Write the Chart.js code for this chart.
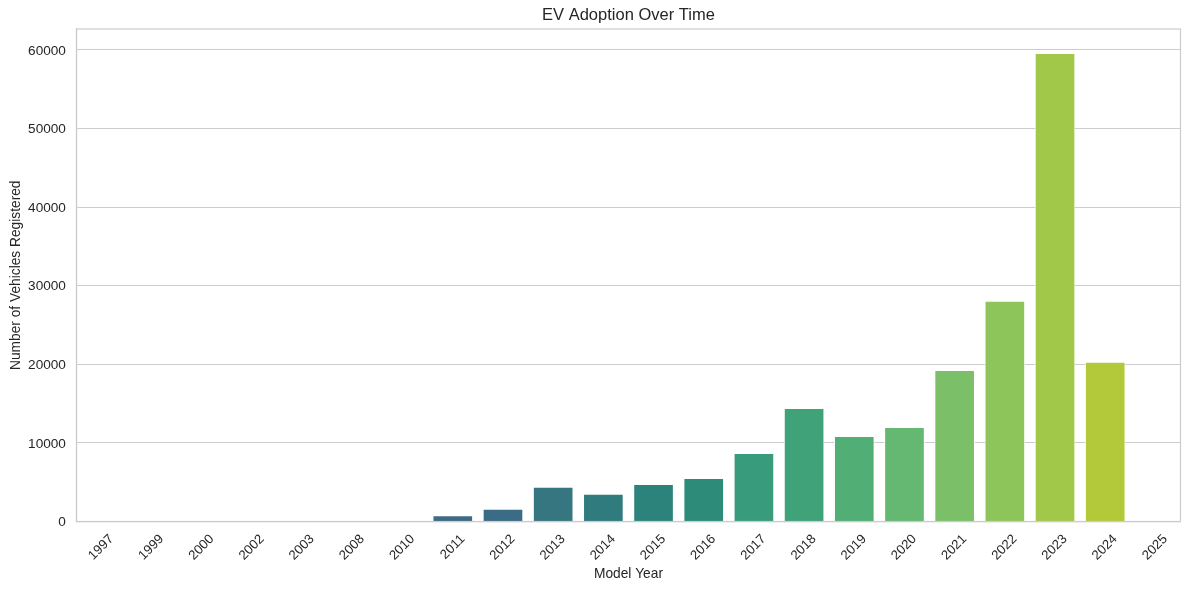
<!DOCTYPE html>
<html>
<head>
<meta charset="utf-8">
<style>
html,body{margin:0;padding:0;background:#fff;}
#wrap{position:relative;width:1189px;height:589px;}
</style>
<script src="https://cdn.jsdelivr.net/npm/chart.js@4"></script>
</head>
<body>
<div id="wrap"><canvas id="c" width="1189" height="589"></canvas></div>
<script>
const categories = ['1997','1999','2000','2002','2003','2008','2010','2011','2012','2013','2014','2015','2016','2017','2018','2019','2020','2021','2022','2023','2024','2025'];
const vehicleCounts = [1,5,7,2,1,20,23,800,1620,4430,3520,4780,5530,8730,14430,10880,12030,19280,28080,59630,20330,5];
const barColors = ['#4a3f73','#4a4577','#48507f','#465981','#436184','#3f6a87','#3d6c87','#3f6a85','#3a6c85','#357681','#307b7e','#2c837c','#2d8b7a','#379b7c','#40a279','#51ae74','#64b871','#7bc068','#8ec55a','#a2c84a','#b4c93a','#c6cb33'];
const yTicks = [0,10000,20000,30000,40000,50000,60000];
const FONT = '"Liberation Sans", Arial, sans-serif';
const INK = '#262626';
const GRID = '#cccccc';
const LABEL_SIZE = 13.76;
const TICK_SIZE = 13.2;

new Chart(document.getElementById('c'), {
  type: 'bar',
  data: {
    labels: categories,
    datasets: [{
      label: 'Number of Vehicles Registered',
      data: vehicleCounts,
      backgroundColor: barColors,
      borderColor: '#ffffff',
      borderWidth: 1,
      borderSkipped: 'bottom',
      categoryPercentage: 1,
      barPercentage: 0.81
    }]
  },
  options: {
    responsive: false,
    animation: false,
    devicePixelRatio: 1,
    layout: { padding: { left: 0, right: 8.5, top: 0, bottom: 0 } },
    plugins: {
      legend: { display: false },
      tooltip: { enabled: false },
      title: {
        display: true,
        fullSize: false,
        text: 'EV Adoption Over Time',
        color: INK,
        font: { family: FONT, size: 16.5, weight: 'normal' },
        padding: { top: 6, bottom: 3.2 }
      }
    },
    scales: {
      x: {
        grid: { display: false, drawTicks: false },
        border: { display: true, color: GRID, width: 1.2 },
        title: {
          display: true, text: 'Model Year', color: INK,
          font: { family: FONT, size: LABEL_SIZE }, padding: { top: 0, bottom: 7 }
        },
        ticks: {
          color: INK, font: { family: FONT, size: TICK_SIZE },
          minRotation: 45, maxRotation: 45, autoSkip: false, padding: 10, labelOffset: 10
        },
        afterFit(s) { s.height = 67.5; }
      },
      y: {
        min: 0, max: 62670,
        afterBuildTicks(s) { s.ticks = yTicks.map(v => ({ value: v })); },
        grid: { color: GRID, lineWidth: 1.1, drawTicks: false },
        border: { display: true, color: GRID, width: 1.2 },
        title: {
          display: true, text: 'Number of Vehicles Registered', color: INK,
          font: { family: FONT, size: LABEL_SIZE }, padding: { top: 8, bottom: 0 }
        },
        ticks: {
          color: INK, font: { family: FONT, size: 13.6 }, padding: 10.5, labelOffset: 1,
          callback: v => String(v)
        },
        afterFit(s) { s.width = 76.4; }
      }
    }
  },
  plugins: [{
    id: 'frame',
    afterDatasetsDraw(chart) {
      const a = chart.chartArea, x = chart.ctx;
      x.save();
      x.strokeStyle = GRID; x.lineWidth = 1.2;
      x.strokeRect(a.left, a.top, a.right - a.left, a.bottom - a.top);
      x.restore();
    }
  }]
});
</script>
</body>
</html>
